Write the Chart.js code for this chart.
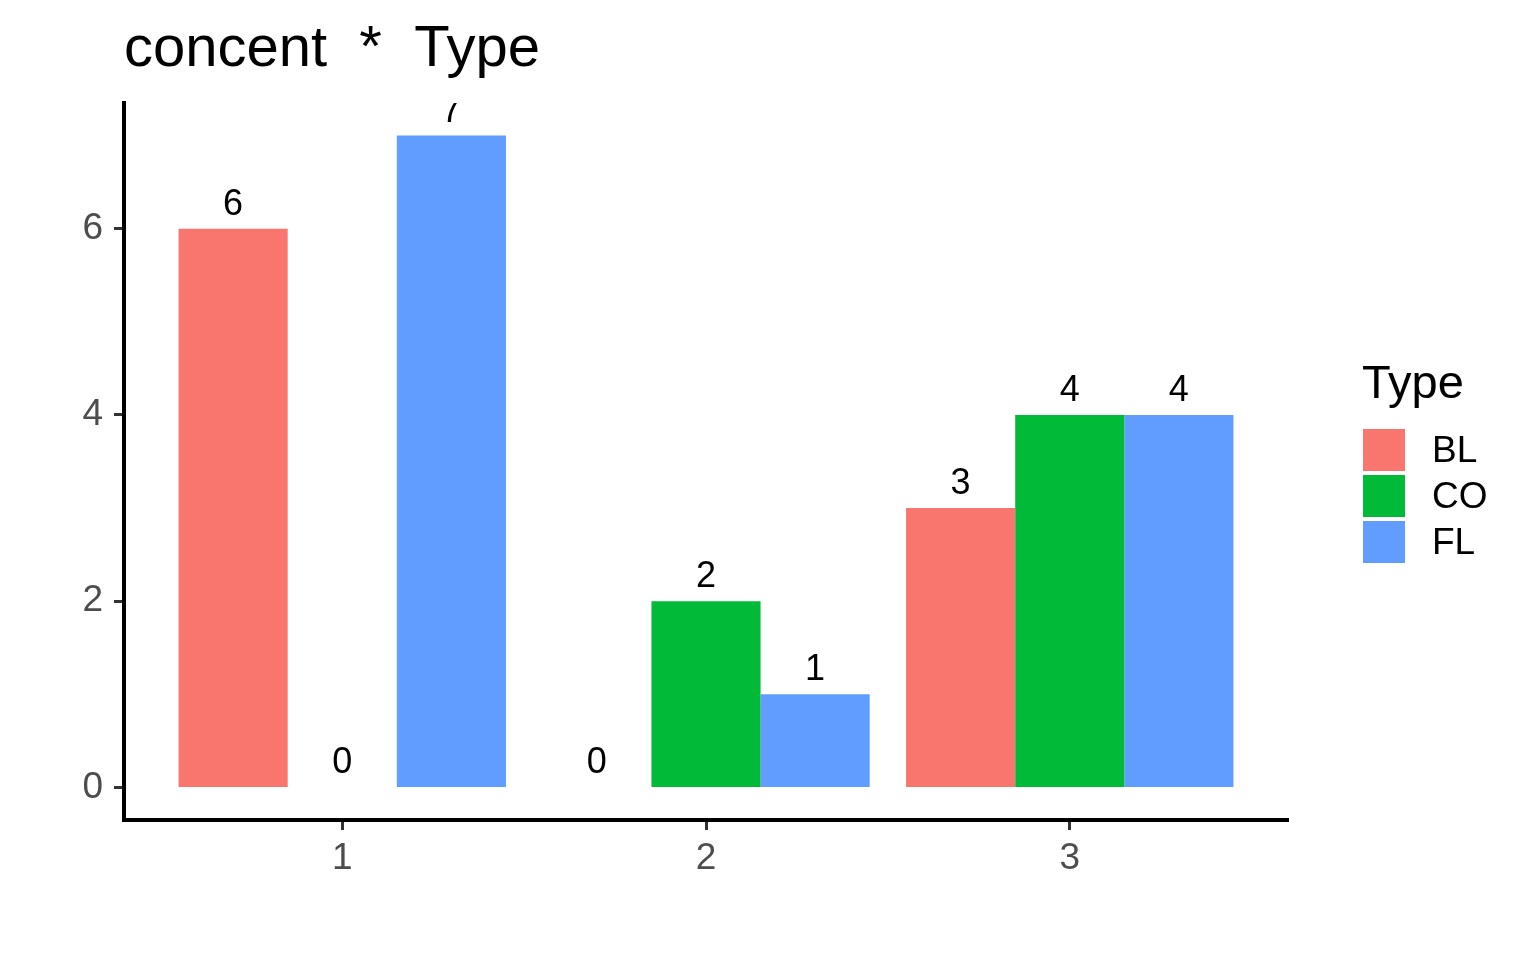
<!DOCTYPE html>
<html>
<head>
<meta charset="utf-8">
<title>concent * Type</title>
<script src="https://cdn.jsdelivr.net/npm/chart.js@4"></script>
<style>
  html, body { margin: 0; padding: 0; background: #ffffff; }
  #chart { display: block; }
</style>
</head>
<body>
<canvas id="chart" width="1536" height="960"></canvas>
<script>
// data
const concent = [1, 2, 3];
const types = ["BL", "CO", "FL"];
const typeColors = ["#F8766D", "#00BA38", "#619CFF"];
const blValues = [6, 0, 3];
const coValues = [0, 2, 4];
const flValues = [7, 1, 4];
const yTicks = [0, 2, 4, 6];

const FONT = "'Liberation Sans', Arial, sans-serif";
const seriesValues = [blValues, coValues, flValues];

//build the datasets
const datasets = types.map((name, i) => ({
    label: name,
    data: concent.map((c, j) => ({ x: c, y: seriesValues[i][j] })),
    backgroundColor: typeColors[i],
    borderWidth: 0,
    categoryPercentage: 0.9,
    barPercentage: 1.0,
}));

//value labels on top of bars (clipped to the panel)
const barLabels = {
    id: "barLabels",
    afterDatasetsDraw(chart) {
        const ctx = chart.ctx;
        const area = chart.chartArea;
        ctx.save();
        ctx.beginPath();
        ctx.rect(area.left, area.top, area.right - area.left, area.bottom - area.top);
        ctx.clip();
        ctx.fillStyle = "#000000";
        ctx.font = "36px " + FONT;
        ctx.textAlign = "center";
        ctx.textBaseline = "alphabetic";
        chart.data.datasets.forEach((ds, i) => {
            const meta = chart.getDatasetMeta(i);
            meta.data.forEach((bar, j) => {
                ctx.fillText(String(ds.data[j].y), bar.x, bar.y - 14);
            });
        });
        ctx.restore();
    }
};

//legend on the right, ggplot style
const sideLegend = {
    id: "sideLegend",
    afterDraw(chart) {
        const ctx = chart.ctx;
        const left = chart.chartArea.right + 75;
        ctx.save();
        ctx.fillStyle = "#000000";
        ctx.textAlign = "left";
        ctx.textBaseline = "alphabetic";
        ctx.font = "47px " + FONT;
        ctx.fillText("Type", left - 1, 398);
        ctx.font = "37px " + FONT;
        ctx.textBaseline = "middle";
        chart.data.datasets.forEach((ds, i) => {
            const top = 429 + i * 46;
            ctx.fillStyle = ds.backgroundColor;
            ctx.fillRect(left, top, 42, 42);
            ctx.fillStyle = "#000000";
            ctx.fillText(ds.label, left + 69, top + 23);
        });
        ctx.restore();
    }
};

new Chart(document.getElementById("chart"), {
    type: "bar",
    data: { datasets: datasets },
    plugins: [barLabels, sideLegend],
    options: {
        responsive: false,
        animation: false,
        devicePixelRatio: 1,
        layout: { padding: { left: 0, right: 248, top: 21, bottom: 0 } },
        plugins: {
            legend: { display: false },
            tooltip: { enabled: false },
            title: {
                display: true,
                text: "concent  *  Type",
                align: "start",
                fullSize: false,
                color: "#000000",
                font: { family: FONT, size: 58, weight: "normal", lineHeight: 1 },
                padding: { top: 0, bottom: 24 },
            },
        },
        scales: {
            x: {
                type: "linear",
                min: 0.4,
                max: 3.6,
                offset: false,
                afterBuildTicks: (scale) => {
                    scale.ticks = concent.map(v => ({ value: v }));
                },
                afterFit: (scale) => { scale.height = 140; },
                grid: {
                    display: true,
                    offset: false,
                    drawOnChartArea: false,
                    drawTicks: true,
                    tickLength: 10,
                    tickWidth: 3,
                    tickColor: "#333333",
                },
                border: { display: true, color: "#000000", width: 4 },
                ticks: {
                    color: "#4D4D4D",
                    font: { family: FONT, size: 37 },
                    padding: 7,
                    maxRotation: 0,
                    callback: (v) => String(v),
                },
            },
            y: {
                type: "linear",
                min: -0.35,
                max: 7.35,
                afterBuildTicks: (scale) => {
                    scale.ticks = yTicks.map(v => ({ value: v }));
                },
                afterFit: (scale) => { scale.width = 124; },
                grid: {
                    display: true,
                    drawOnChartArea: false,
                    drawTicks: true,
                    tickLength: 10,
                    tickWidth: 3,
                    tickColor: "#333333",
                },
                border: { display: true, color: "#000000", width: 4 },
                ticks: {
                    color: "#4D4D4D",
                    font: { family: FONT, size: 37 },
                    padding: 11,
                    callback: (v) => String(v),
                },
            },
        },
    },
});
</script>
</body>
</html>
